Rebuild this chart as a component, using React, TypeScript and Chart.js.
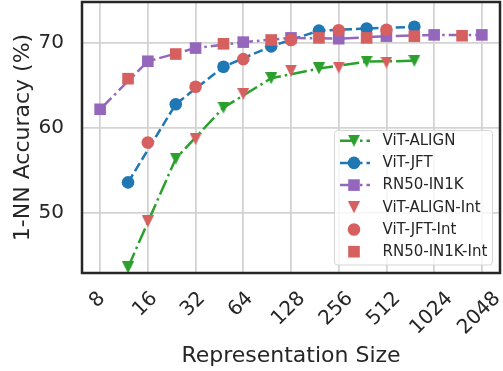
import React, { useEffect, useRef } from 'react';
import { Chart, registerables } from 'chart.js';

Chart.register(...registerables);

// ---- data ----
const xTickValues = [8, 16, 32, 64, 128, 256, 512, 1024, 2048];
const xTickLabels = ['8', '16', '32', '64', '128', '256', '512', '1024', '2048'];
const yTickValues = [50, 60, 70];

const vitSizes = [12, 24, 48, 96, 192, 384, 768];
const vitIntSizes = [16, 32, 64, 128, 256, 512];
const rnSizes = [8, 16, 32, 64, 128, 256, 512, 1024, 2048];
const rnIntSizes = [12, 24, 48, 96, 192, 384, 768, 1536];

const vitAlign = [43.6, 56.4, 62.4, 65.85, 67.0, 67.8, 67.9];
const vitJft = [53.6, 62.8, 67.2, 69.6, 71.45, 71.7, 71.9];
const rn50 = [62.2, 67.85, 69.4, 70.1, 70.6, 70.5, 70.8, 70.95, 70.95];
const vitAlignInt = [49.0, 58.7, 64.0, 66.75, 67.1, 67.7];
const vitJftInt = [58.3, 64.85, 68.1, 70.35, 71.5, 71.55];
const rn50Int = [65.8, 68.7, 69.9, 70.35, 70.6, 70.6, 70.8, 70.85];

const seriesLabels = ['ViT-ALIGN', 'ViT-JFT', 'RN50-IN1K', 'ViT-ALIGN-Int', 'ViT-JFT-Int', 'RN50-IN1K-Int'];

const GREEN = '#2ca02c';
const BLUE = '#1f77b4';
const PURPLE = '#9467bd';
const RED = '#d65f5f';
const TEXT = '#262626';
const FONT = '"DejaVu Sans", sans-serif';

const DASHED = [9.25, 4];
const DASHDOT = [16, 4, 2.5, 4];

function pts(xs: number[], ys: number[]) {
  return xs.map((x, i) => ({ x, y: ys[i] }));
}

function triangleImage(color: string) {
  const c = document.createElement('canvas');
  c.width = 12;
  c.height = 12;
  const g = c.getContext('2d')!;
  g.fillStyle = color;
  g.beginPath();
  g.moveTo(0, 0);
  g.lineTo(12, 0);
  g.lineTo(6, 12);
  g.closePath();
  g.fill();
  return c;
}

function drawMarker(ctx: CanvasRenderingContext2D, style: any, r: number, color: string, x: number, y: number) {
  ctx.save();
  ctx.fillStyle = color;
  if (typeof style !== 'string') {
    ctx.drawImage(style, x - style.width / 2, y - style.height / 2, style.width, style.height);
  } else if (style === 'circle') {
    ctx.beginPath();
    ctx.arc(x, y, r, 0, Math.PI * 2);
    ctx.fill();
  } else if (style === 'rect') {
    const s = r * Math.SQRT1_2;
    ctx.fillRect(x - s, y - s, 2 * s, 2 * s);
  }
  ctx.restore();
}

const framePlugin = {
  id: 'frame',
  afterDatasetsDraw(chart: any) {
    const { ctx, chartArea: a } = chart;
    ctx.save();
    ctx.strokeStyle = TEXT;
    ctx.lineWidth = 2.5;
    ctx.strokeRect(a.left, a.top, a.right - a.left, a.bottom - a.top);
    ctx.restore();
  },
};

const xLabelPlugin = {
  id: 'xlabels',
  afterDraw(chart: any) {
    const { ctx } = chart;
    const xs = chart.scales.x;
    const base = chart.chartArea.bottom + 17.5;
    ctx.save();
    ctx.font = '20px ' + FONT;
    ctx.fillStyle = TEXT;
    ctx.textAlign = 'center';
    ctx.textBaseline = 'middle';
    xTickValues.forEach((v, i) => {
      const label = xTickLabels[i];
      const px = xs.getPixelForValue(v);
      const w = ctx.measureText(label).width;
      const cx = px - 2.5;
      const cy = base + (w + 14) / (2 * Math.SQRT2);
      ctx.save();
      ctx.translate(cx, cy);
      ctx.rotate(-Math.PI / 4);
      ctx.fillText(label, 0, 0);
      ctx.restore();
    });
    ctx.restore();
  },
};

const legendPlugin = {
  id: 'customLegend',
  afterDraw(chart: any) {
    const { ctx } = chart;
    ctx.save();
    const bx = 334.5, by = 130.5, bw = 158, bh = 134.5, rr = 3;
    ctx.beginPath();
    ctx.moveTo(bx + rr, by);
    ctx.lineTo(bx + bw - rr, by);
    ctx.arcTo(bx + bw, by, bx + bw, by + rr, rr);
    ctx.lineTo(bx + bw, by + bh - rr);
    ctx.arcTo(bx + bw, by + bh, bx + bw - rr, by + bh, rr);
    ctx.lineTo(bx + rr, by + bh);
    ctx.arcTo(bx, by + bh, bx, by + bh - rr, rr);
    ctx.lineTo(bx, by + rr);
    ctx.arcTo(bx, by, bx + rr, by, rr);
    ctx.closePath();
    ctx.fillStyle = 'rgba(255,255,255,0.8)';
    ctx.fill();
    ctx.strokeStyle = '#d6d6d6';
    ctx.lineWidth = 1;
    ctx.stroke();

    chart.data.datasets.forEach((ds: any, row: number) => {
      const y = 140.7 + row * 22.2;
      if (ds.showLine !== false) {
        ctx.save();
        ctx.strokeStyle = ds.borderColor;
        ctx.lineWidth = ds.borderWidth;
        ctx.setLineDash(ds.borderDash || []);
        ctx.beginPath();
        ctx.moveTo(340, y);
        ctx.lineTo(370, y);
        ctx.stroke();
        ctx.restore();
      }
      drawMarker(ctx, ds.pointStyle, ds.pointRadius, ds.pointBackgroundColor, 354, y);
      ctx.font = '15px ' + FONT;
      ctx.fillStyle = TEXT;
      ctx.textAlign = 'left';
      ctx.textBaseline = 'middle';
      ctx.fillText(ds.label, 382.5, y + 0.5);
    });
    ctx.restore();
  },
};

export default function App() {
  const canvasRef = useRef<HTMLCanvasElement | null>(null);

  useEffect(() => {
    if (!canvasRef.current) return;
    const triG = triangleImage(GREEN);
    const triR = triangleImage(RED);

    const lineDs = (label: string, data: any, color: string, dash: number[], style: any, r: number, order: number) => ({
      label,
      data,
      borderColor: color,
      backgroundColor: color,
      borderWidth: 2.5,
      borderDash: dash,
      pointStyle: style,
      pointRadius: r,
      pointBackgroundColor: color,
      pointBorderColor: color,
      pointBorderWidth: 0,
      showLine: true,
      fill: false,
      tension: 0,
      order,
    });
    const markDs = (label: string, data: any, style: any, r: number, order: number) => ({
      label,
      data,
      borderColor: RED,
      backgroundColor: RED,
      borderWidth: 0,
      pointStyle: style,
      pointRadius: r,
      pointBackgroundColor: RED,
      pointBorderColor: RED,
      pointBorderWidth: 0,
      showLine: false,
      fill: false,
      order,
    });

    const chart = new Chart(canvasRef.current, {
      type: 'line',
      data: {
        datasets: [
          lineDs(seriesLabels[0], pts(vitSizes, vitAlign), GREEN, DASHDOT, triG, 6, 6),
          lineDs(seriesLabels[1], pts(vitSizes, vitJft), BLUE, DASHED, 'circle', 6.3, 5),
          lineDs(seriesLabels[2], pts(rnSizes, rn50), PURPLE, DASHDOT, 'rect', 8.2, 4),
          markDs(seriesLabels[3], pts(vitIntSizes, vitAlignInt), triR, 6, 3),
          markDs(seriesLabels[4], pts(vitIntSizes, vitJftInt), 'circle', 6.3, 2),
          markDs(seriesLabels[5], pts(rnIntSizes, rn50Int), 'rect', 8.2, 1),
        ] as any,
      },
      options: {
        responsive: false,
        animation: false,
        events: [],
        layout: { autoPadding: false, padding: { top: 2, right: 3, left: 0, bottom: 0 } },
        plugins: {
          legend: { display: false },
          tooltip: { enabled: false },
          title: { display: false },
        },
        scales: {
          x: {
            type: 'logarithmic',
            min: 8 * Math.pow(2, -0.38),
            max: 2048 * Math.pow(2, 0.38),
            afterBuildTicks: (scale: any) => {
              scale.ticks = xTickValues.map((v) => ({ value: v }));
            },
            afterFit: (scale: any) => {
              scale.height = 98;
              scale.paddingLeft = 0;
              scale.paddingRight = 0;
              scale.paddingTop = 0;
              scale.paddingBottom = 0;
            },
            ticks: { display: false },
            grid: { color: '#d3d3d3', lineWidth: 1.8, drawTicks: false },
            border: { display: false },
            title: {
              display: true,
              text: 'Representation Size',
              color: TEXT,
              font: { family: FONT, size: 22 },
              padding: { top: 0, bottom: 2 },
            },
          },
          y: {
            type: 'linear',
            min: 42.94,
            max: 74.82,
            afterBuildTicks: (scale: any) => {
              scale.ticks = yTickValues.map((v) => ({ value: v }));
            },
            afterFit: (scale: any) => {
              scale.width = 82;
              scale.paddingTop = 0;
              scale.paddingBottom = 0;
              scale.paddingLeft = 0;
              scale.paddingRight = 0;
            },
            ticks: {
              color: TEXT,
              font: { family: FONT, size: 20 },
              padding: 18,
              callback: (v: any) => String(v),
            },
            grid: { color: '#d3d3d3', lineWidth: 1.8, drawTicks: false },
            border: { display: false },
            title: {
              display: true,
              text: '1-NN Accuracy (%)',
              color: TEXT,
              font: { family: FONT, size: 22 },
              padding: { top: 10, bottom: 0 },
            },
          },
        },
      } as any,
      plugins: [framePlugin, xLabelPlugin, legendPlugin],
    });
    return () => chart.destroy();
  }, []);

  return (
    <div style={{ position: 'fixed', left: 0, top: 0, width: 503, height: 371, background: '#fff' }}>
      <canvas ref={canvasRef} width={503} height={371} style={{ display: 'block' }} />
    </div>
  );
}
